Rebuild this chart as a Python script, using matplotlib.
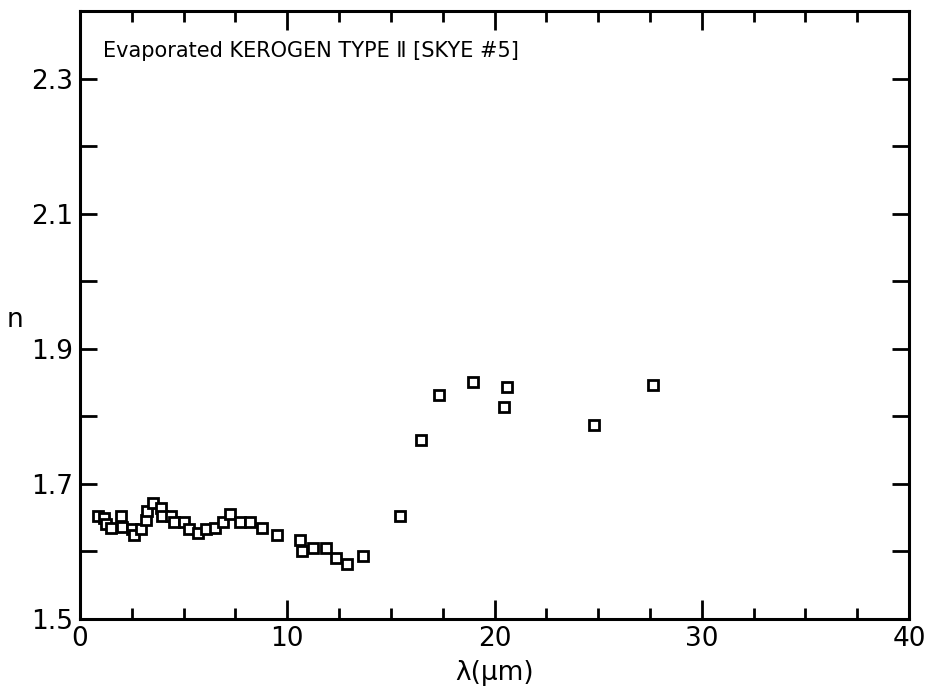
import matplotlib
matplotlib.use("Agg")
import matplotlib.pyplot as plt
import numpy as np

# wavelength (um) and refractive index n
wavelength = [0.85, 1.14, 1.27, 1.5, 2.0, 2.03, 2.52, 2.6, 2.96, 3.17, 3.25, 3.5,
              3.9, 3.98, 4.39, 4.55, 5.04, 5.28, 5.69, 6.1, 6.5, 6.9, 7.24, 7.72,
              8.2, 8.8, 9.5, 10.6, 10.7, 11.25, 11.87, 12.36, 12.9, 13.65,
              15.45, 16.44, 17.34, 18.95, 20.46, 20.59, 24.8, 27.64]
n_index = [1.652, 1.650, 1.641, 1.635, 1.652, 1.636, 1.633, 1.625, 1.633, 1.646,
           1.660, 1.672, 1.665, 1.652, 1.652, 1.644, 1.644, 1.633, 1.627, 1.633,
           1.635, 1.644, 1.656, 1.644, 1.644, 1.635, 1.625, 1.617, 1.601, 1.605,
           1.605, 1.590, 1.582, 1.594,
           1.653, 1.765, 1.832, 1.851, 1.814, 1.843, 1.787, 1.846]

title = "Evaporated KEROGEN TYPE \u2161 [SKYE #5]"
x_ticks = [0, 10, 20, 30, 40]
y_label_ticks = [1.5, 1.7, 1.9, 2.1, 2.3]

plt.rcParams["font.family"] = ["DejaVu Sans"]

fig = plt.figure(figsize=(9.31, 6.94), dpi=100)
ax = fig.add_axes([0.0859, 0.108, 0.8905, 0.876])

ax.plot(wavelength, n_index, linestyle="none", marker="s", markersize=7.8,
        markerfacecolor="white", markeredgecolor="black", markeredgewidth=2.0)

ax.set_xlim(0, 40)
ax.set_ylim(1.5, 2.4)

# x ticks: labelled majors every 10, minors every 2.5
ax.set_xticks(x_ticks)
ax.set_xticks(np.arange(0, 40.1, 2.5), minor=True)

# y ticks every 0.1, labels only on every other one
y_ticks = np.round(np.arange(1.5, 2.35, 0.1), 1)
ax.set_yticks(y_ticks)
ax.set_yticklabels([f"{v:.1f}" if v in y_label_ticks else "" for v in y_ticks])

ax.tick_params(axis="both", which="both", direction="in", top=True, right=True,
               width=2.0, labelsize=19, pad=5)
ax.tick_params(axis="x", which="major", length=14)
ax.tick_params(axis="x", which="minor", length=8)
ax.tick_params(axis="y", which="major", length=12)

for spine in ax.spines.values():
    spine.set_linewidth(2.2)

ax.set_xlabel("\u03bb(\u03bcm)", fontsize=19, labelpad=6)
ax.set_ylabel("n", fontsize=19, rotation=0)
ax.yaxis.set_label_coords(-0.078, 0.47)

ax.text(0.028, 0.935, title, transform=ax.transAxes, fontsize=15,
        ha="left", va="center")

fig.savefig("out.png", dpi=100)
